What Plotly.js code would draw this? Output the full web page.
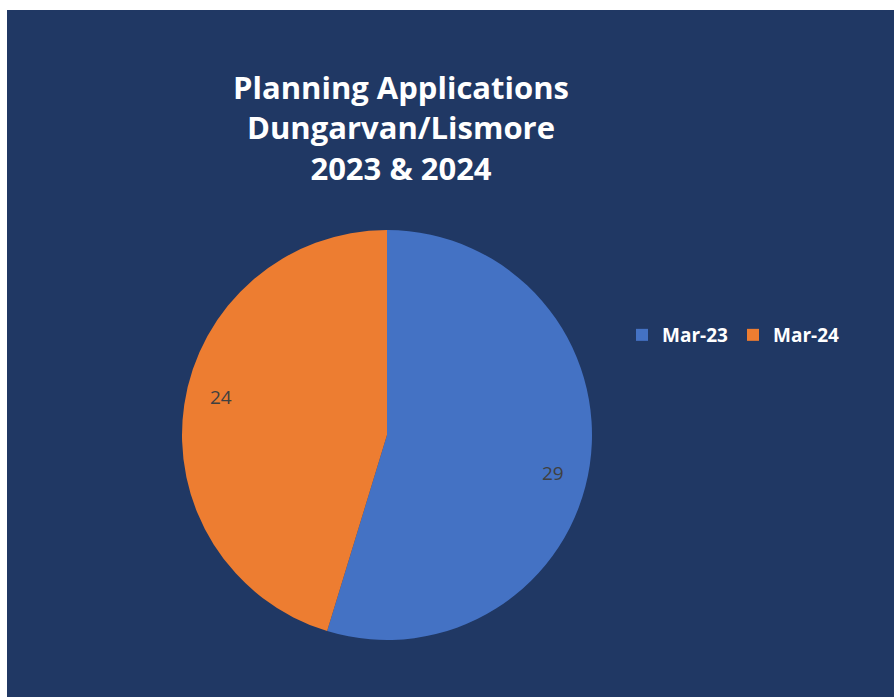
<!DOCTYPE html>
<html>
<head>
<meta charset="utf-8">
<script src="https://cdn.plot.ly/plotly-3.0.1.min.js"></script>
<style>
  html, body { margin: 0; padding: 0; background: #ffffff; width: 894px; height: 697px; overflow: hidden; }
  #chart { position: absolute; left: 7px; top: 10px; width: 887px; height: 687px; }
</style>
</head>
<body>
<div id="chart"></div>
<script>
const categories = ["Mar-23", "Mar-24"];
const values = [29, 24];
const colors = ["#4472C4", "#ED7D31"];
const titleLines = ["Planning Applications", "Dungarvan/Lismore", "2023 & 2024"];

const W = 887, H = 687;
const dom = { x: [175 / W, 585 / W], y: [(H - 630) / H, (H - 220) / H] };

const data = [{
  type: "pie",
  labels: categories,
  values: values,
  sort: false,
  direction: "clockwise",
  rotation: 0,
  marker: { colors: colors, line: { width: 0 } },
  textinfo: "none",
  textposition: "none",
  domain: dom,
  hoverinfo: "label+value"
}];

// data labels placed near the rim at the middle angle of each slice
const total = values.reduce((a, b) => a + b, 0);
const cxPx = (dom.x[0] + dom.x[1]) / 2 * W;
const cyPx = (dom.y[0] + dom.y[1]) / 2 * H;
const rPx = Math.min((dom.x[1] - dom.x[0]) * W, (dom.y[1] - dom.y[0]) * H) / 2;
const labelFrac = 0.83;
const labelTurn = 4.5 * Math.PI / 180;
let cum = 0;
const annotations = values.map((v, i) => {
  const mid = (cum + v / 2) / total * 2 * Math.PI + labelTurn;
  cum += v;
  const px = cxPx + labelFrac * rPx * Math.sin(mid);
  const py = cyPx + labelFrac * rPx * Math.cos(mid);
  return {
    xref: "paper", yref: "paper",
    x: px / W, y: py / H,
    xanchor: "center", yanchor: "middle",
    text: String(v), showarrow: false,
    font: { family: "Open Sans, sans-serif", size: 19, color: "#404040" }
  };
});

const layout = {
  width: W, height: H,
  paper_bgcolor: "#203864",
  plot_bgcolor: "#203864",
  margin: { l: 0, r: 0, t: 0, b: 0 },
  title: {
    text: "<b>" + titleLines.join("<br>") + "</b>",
    font: { family: "Open Sans, sans-serif", size: 31, color: "#ffffff" },
    xref: "paper", yref: "paper",
    x: 394 / W, xanchor: "center",
    y: 1 - 89 / H, yanchor: "middle"
  },
  showlegend: true,
  legend: {
    orientation: "h",
    x: 615 / W, xanchor: "left",
    y: 1 - 325 / H, yanchor: "middle",
    font: { family: "Open Sans, sans-serif", size: 19, color: "#ffffff", weight: "bold" },
    bgcolor: "rgba(0,0,0,0)",
    traceorder: "normal",
    itemwidth: 30
  },
  annotations: annotations
};

Plotly.newPlot("chart", data, layout, { displayModeBar: false, staticPlot: true });
</script>
</body>
</html>
